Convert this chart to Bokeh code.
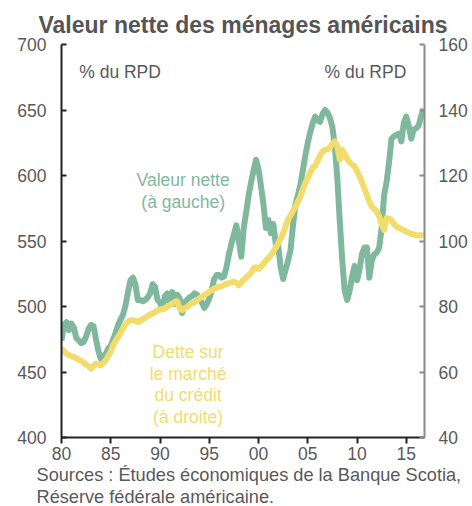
from bokeh.plotting import figure
from bokeh.models import Range1d, LinearAxis, FixedTicker, Label, ColumnDataSource, Title
from bokeh.embed import file_html
from bokeh.resources import INLINE

# ---- data (quarterly, 1980Q1 .. 2016Q4) ----
start_year = 1980
net_worth = [  # % of disposable personal income, left axis
    474, 486, 488, 482,  487, 484, 476, 474,  472, 473, 477, 483,  486, 485, 475, 466,
    460, 462, 464, 468,  470, 475, 480, 486,  490, 494, 501, 511,  520, 522, 517, 505,
    505, 504, 505, 507,  510, 517, 515, 505,  503, 498, 508, 510,  503, 511, 502, 509,
    506, 495, 503, 505,  507, 508, 510, 509,  506, 503, 499, 502,  506, 513, 521, 524,
    524, 522, 523, 530,  540, 548, 555, 562,  550, 538, 560, 572,  585, 595, 604, 612,
    605, 592, 578, 560,  566, 556, 563, 548,  546, 530, 521, 528,  535, 543, 562, 578,
    585, 593, 604, 615,  625, 633, 640, 645,  642, 641, 647, 650,  648, 644, 637, 622,
    598, 565, 535, 512,  505, 512, 523, 531,  520, 528, 540, 545,  545, 522, 535, 540,
    541, 545, 560, 585,  595, 610, 628, 630,  631, 632, 626, 640,  645, 638, 628, 635,
    636, 638, 645, 651,
]
credit_debt = [  # % of disposable personal income, right axis
    67.3, 66.3, 65.6, 65.2,  64.9, 64.6, 64.2, 63.8,  63.4, 62.9, 62.2, 61.8,  61.0, 61.8, 62.6, 62.3,
    62.0, 62.8, 63.6, 65.0,  66.2, 68.3, 69.5, 70.7,  72.0, 73.4, 74.6, 75.3,  75.8, 75.8, 75.6, 75.3,
    75.6, 76.2, 76.5, 77.1,  77.5, 77.9, 78.3, 78.9,  79.0, 79.3, 79.5, 80.0,  80.4, 80.9, 81.4, 81.6,
    79.5, 78.9, 79.5, 79.9,  80.5, 81.0, 81.3, 81.8,  82.5, 83.0, 83.5, 84.0,  84.5, 85.0, 85.5, 85.8,
    86.0, 86.2, 86.6, 86.9,  87.1, 87.4, 87.6, 87.2,  86.5, 87.3, 88.2, 88.9,  89.5, 90.3, 91.6, 92.0,
    91.4, 92.2, 93.0, 94.0,  94.8, 95.7, 96.7, 98.0,  99.3, 100.8, 102.4, 104.5,  106.5, 107.8, 109.2, 110.5,
    112.0, 113.6, 115.7, 117.7,  119.2, 121.0, 122.4, 123.0,  124.5, 126.0, 127.3, 127.9,  128.0, 128.6, 129.6, 130.4,
    128.9, 124.8, 127.9, 126.5,  125.0, 124.0, 123.3, 122.8,  121.4, 119.8, 118.0, 116.0,  114.0, 112.0, 110.5, 109.8,
    109.0, 107.5, 105.0, 103.4,  107.0, 106.8, 106.4, 105.2,  104.4, 104.0, 103.6, 103.3,  102.8, 102.5, 102.2, 102.0,
    101.8, 101.7, 101.8, 101.6,
]
x_ticks = [1980, 1985, 1990, 1995, 2000, 2005, 2010, 2015]
x_tick_labels = ["80", "85", "90", "95", "00", "05", "10", "15"]
left_ticks = [400, 450, 500, 550, 600, 650, 700]
right_ticks = [40, 60, 80, 100, 120, 140, 160]

title_text = "Valeur nette des ménages américains"
source_lines = ["Sources : Études économiques de la Banque Scotia,",
                "Réserve fédérale américaine."]

GREEN = "#80B89E"
YELLOW = "#F2DC6C"
GREY = "#595959"
FONT = "Liberation Sans"
FS = "17.5px"

quarters = [start_year + 0.25 * i for i in range(len(net_worth))]
src = ColumnDataSource(dict(x=quarters, nw=net_worth, debt=credit_debt))

p = figure(width=470, height=506, output_backend="svg", toolbar_location=None,
           x_range=Range1d(1980, 2016.85), y_range=Range1d(400, 700),
           min_border_left=61, min_border_right=46, min_border_top=44, min_border_bottom=0,
           x_axis_location=None, y_axis_location=None)
p.extra_y_ranges = {"right": Range1d(40, 160)}
p.outline_line_color = None
p.grid.grid_line_color = None
p.background_fill_color = "white"
p.border_fill_color = "white"

p.add_layout(Title(text=title_text, align="center", text_font=FONT, text_font_size="23px",
                   text_font_style="bold", text_color="#555555", standoff=14), "above")

xaxis = LinearAxis(ticker=FixedTicker(ticks=x_ticks))
xaxis.major_label_overrides = {t: l for t, l in zip(x_ticks, x_tick_labels)}
xaxis.axis_line_color = "#222222"
xaxis.axis_line_width = 2
xaxis.major_tick_line_color = "#222222"
xaxis.major_tick_line_width = 2
xaxis.major_tick_in = 0
xaxis.major_tick_out = 6
xaxis.minor_tick_line_color = None
xaxis.major_label_standoff = 3
xaxis.major_label_text_line_height = 1.0
p.add_layout(xaxis, "below")

for line in source_lines:
    p.add_layout(Title(text=line, align="left", offset=-25, text_font=FONT,
                       text_font_size="18.2px", text_font_style="normal", text_color=GREY,
                       text_line_height=0.95, standoff=0), "below")

laxis = LinearAxis(ticker=FixedTicker(ticks=left_ticks))
laxis.axis_line_color = "#222222"
laxis.axis_line_width = 2
laxis.major_tick_line_color = "#222222"
laxis.major_tick_line_width = 2
laxis.major_tick_in = 5
laxis.major_tick_out = 0
laxis.minor_tick_line_color = None
laxis.major_label_standoff = 15
p.add_layout(laxis, "left")

raxis = LinearAxis(y_range_name="right", ticker=FixedTicker(ticks=right_ticks))
raxis.axis_line_color = "#8a8a8a"
raxis.axis_line_width = 2
raxis.major_tick_line_color = "#8a8a8a"
raxis.major_tick_line_width = 2
raxis.major_tick_in = 5
raxis.major_tick_out = 0
raxis.minor_tick_line_color = None
raxis.major_label_standoff = 14
p.add_layout(raxis, "right")

for ax in (xaxis, laxis, raxis):
    ax.major_label_text_font = FONT
    ax.major_label_text_font_size = FS
    ax.major_label_text_color = GREY

p.line("x", "nw", source=src, line_color=GREEN, line_width=6, line_join="round")
p.line("x", "debt", source=src, y_range_name="right", line_color=YELLOW, line_width=6,
       line_join="round")

def add_label(x, y, text, color=GREY, align="center"):
    p.add_layout(Label(x=x, y=y, text=text, text_color=color, text_align=align,
                       text_baseline="middle", text_font=FONT, text_font_size=FS))

# annotations
add_label(1981.8, 679.3, "% du RPD", align="left")
add_label(2015.0, 679.3, "% du RPD", align="right")
add_label(1992.35, 596.5, "Valeur nette", color=GREEN)
add_label(1992.35, 580.0, "(à gauche)", color=GREEN)
for i, t in enumerate(["Dette sur", "le marché", "du crédit", "(à droite)"]):
    add_label(1992.85, 465.3 - 16.6 * i, t, color=YELLOW)

open("out.html", "w").write(file_html(p, INLINE))
